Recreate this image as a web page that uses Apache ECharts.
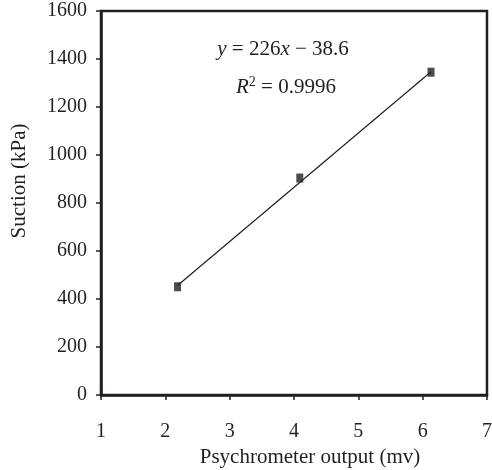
<!DOCTYPE html>
<html><head><meta charset="utf-8">
<script src="https://cdn.jsdelivr.net/npm/echarts@6/dist/echarts.min.js"></script>
<style>html,body{margin:0;padding:0;background:#fff}#c{width:492px;height:470px}</style>
</head><body><div id="c"></div>
<script>
var outputMv = [2.19, 4.09, 6.13];
var suctionKPa = [451, 904, 1345];
var trendX = [2.19, 6.13];
var trendY = [456, 1347];
var xTicks = [1, 2, 3, 4, 5, 6, 7];
var yTicks = [0, 200, 400, 600, 800, 1000, 1200, 1400, 1600];

var FONT = '"Liberation Serif", "Times New Roman", serif';
var INK = '#231f20';
var FS = 20;
var FN = 21;
var chart = echarts.init(document.getElementById('c'), null, {renderer: 'canvas'});
var pts = outputMv.map(function (x, i) { return [x, suctionKPa[i]]; });
var trend = trendX.map(function (x, i) { return [x, trendY[i]]; });
var rich = {
  i: {fontFamily: FONT, fontSize: FN, fontStyle: 'italic', fill: INK},
  n: {fontFamily: FONT, fontSize: FN, fill: INK},
  s: {fontFamily: FONT, fontSize: 14, fill: INK, verticalAlign: 'top', padding: [0, 0, 10, 0]}
};
chart.setOption({
  animation: false,
  grid: {left: 101, top: 11, right: 5, bottom: 75, containLabel: false, outerBoundsMode: 'none', show: true, borderColor: INK, borderWidth: 2.5, backgroundColor: 'transparent'},
  xAxis: {
    type: 'value', min: xTicks[0], max: xTicks[xTicks.length - 1], interval: 1,
    name: 'Psychrometer output (mv)', nameLocation: 'middle', nameGap: 52,
    nameTextStyle: {fontFamily: FONT, fontSize: FN, color: INK, padding: [0, 0, 0, 32]},
    axisLine: {lineStyle: {color: INK, width: 2.5}},
    axisTick: {length: 5, lineStyle: {color: INK, width: 1.5}},
    axisLabel: {fontFamily: FONT, fontSize: FS, color: INK, margin: 27},
    splitLine: {show: false}
  },
  yAxis: {
    type: 'value', min: yTicks[0], max: yTicks[yTicks.length - 1], interval: 200,
    name: 'Suction (kPa)', nameLocation: 'middle', nameGap: 71,
    nameTextStyle: {fontFamily: FONT, fontSize: FN, color: INK, padding: [0, 0, 0, 44]},
    axisLine: {lineStyle: {color: INK, width: 2.5}},
    axisTick: {length: 5, lineStyle: {color: INK, width: 1.5}},
    axisLabel: {fontFamily: FONT, fontSize: FS, color: INK, margin: 14, formatter: function (v) { return String(v); }},
    splitLine: {show: false}
  },
  series: [
    {type: 'line', data: trend, symbol: 'none', lineStyle: {color: INK, width: 1.2}, z: 2},
    {type: 'scatter', data: pts, symbol: 'rect', symbolSize: [7, 9], itemStyle: {color: INK}, z: 3}
  ],
  graphic: [
    {type: 'text', x: 283, y: 49, z: 10, style: {rich: rich, text: '{i|y}{n| = 226}{i|x}{n| \u2212 38.6}', align: 'center', verticalAlign: 'middle', fill: INK}},
    {type: 'text', x: 286, y: 87, z: 10, style: {rich: rich, text: '{i|R}{s|2}{n| = 0.9996}', align: 'center', verticalAlign: 'middle', fill: INK}}
  ]
});
</script></body></html>
